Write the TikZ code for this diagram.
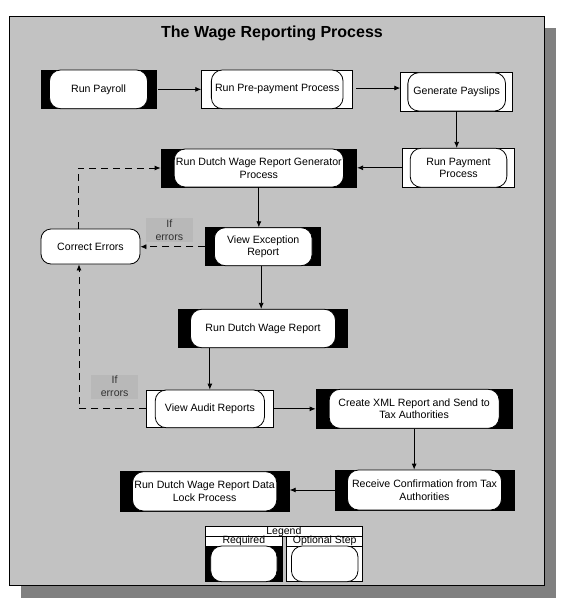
\documentclass[tikz,border=0pt]{standalone}
\usepackage{fontspec}
\setmainfont{Liberation Sans}
\usetikzlibrary{arrows.meta}
\definecolor{framegrey}{RGB}{194,194,194}
\definecolor{shadowgrey}{RGB}{128,128,128}
\definecolor{ifgrey}{RGB}{184,184,184}
\definecolor{iftext}{RGB}{50,50,50}
\tikzset{
  reqbox/.style={draw=black, fill=black, line width=0.8pt, inner sep=0pt},
  optbox/.style={draw=black, fill=white, line width=0.8pt, inner sep=0pt},
  stepin/.style={draw=black, fill=white, rounded corners=11pt, line width=0.8pt,
    inner sep=0pt, align=center, font=\fontsize{10.6}{12.6}\selectfont},
  flow/.style={-{Latex[length=6pt,width=5pt]}, line width=0.8pt},
  errflow/.style={flow, dash pattern=on 7pt off 5pt},
  iflabel/.style={fill=ifgrey, minimum width=47pt, minimum height=24pt, inner sep=0pt,
    align=center, text=iftext, font=\fontsize{10.6}{12.6}\selectfont},
  legcell/.style={draw=black, fill=white, line width=0.8pt, inner sep=0pt,
    text height=7.5pt, text depth=2pt, font=\fontsize{10.5}{11}\selectfont},
  titletext/.style={font=\bfseries\fontsize{16}{18}\selectfont, inner sep=0pt}
}
\begin{document}
\begin{tikzpicture}[x=1pt, y=-1pt]
\useasboundingbox (0,0) rectangle (561,600);
% shadow and frame
\fill[shadowgrey] (20.7,28) rectangle (556,597.7);
\draw[fill=framegrey, line width=0.8pt] (9.3,16) rectangle (544,585);
\node[titletext] (title) at (272,33) {The Wage Reporting Process};

% steps
\node[reqbox, minimum width=115pt, minimum height=38.7pt] (payroll) at (98.5,89.35) {};
\node[stepin, minimum width=98pt, minimum height=38.7pt] (payrollT) at (payroll) {Run Payroll};

\node[optbox, minimum width=151pt, minimum height=38.7pt] (prepay) at (277.2,89.35) {};
\node[stepin, minimum width=131.7pt, minimum height=38.7pt] (prepayT) at (prepay) {Run Pre-payment Process};

\node[optbox, minimum width=112pt, minimum height=38.3pt] (payslips) at (456.7,91.85) {};
\node[stepin, minimum width=97.7pt, minimum height=38.3pt] (payslipsT) at (payslips) {Generate Payslips};

\node[optbox, minimum width=111.6pt, minimum height=39pt] (payment) at (458.5,167.8) {};
\node[stepin, minimum width=96.7pt, minimum height=39pt] (paymentT) at (payment) {Run Payment\\Process};

\node[reqbox, minimum width=195.7pt, minimum height=38pt] (generator) at (258.85,168) {};
\node[stepin, minimum width=169.3pt, minimum height=38pt] (generatorT) at (generator) {Run Dutch Wage Report Generator\\Process};

\node[reqbox, minimum width=115pt, minimum height=38pt] (exception) at (263.2,246.7) {};
\node[stepin, minimum width=97.7pt, minimum height=38pt] (exceptionT) at (exception) {View Exception\\Report};

\node[stepin, minimum width=99pt, minimum height=35pt, rounded corners=10pt] (correct) at (90.5,246.5) {Correct Errors};

\node[reqbox, minimum width=169.4pt, minimum height=38.4pt] (rundutch) at (263,328.5) {};
\node[stepin, minimum width=145pt, minimum height=38.4pt] (rundutchT) at (rundutch) {Run Dutch Wage Report};

\node[optbox, minimum width=126.3pt, minimum height=37.7pt] (audit) at (209.85,408.85) {};
\node[stepin, minimum width=109.3pt, minimum height=37.7pt] (auditT) at (audit) {View Audit Reports};

\node[reqbox, minimum width=196.3pt, minimum height=39pt] (xml) at (414.15,408.8) {};
\node[stepin, minimum width=170pt, minimum height=39pt] (xmlT) at (xml) {Create XML Report and Send to\\Tax Authorities};

\node[reqbox, minimum width=179pt, minimum height=40pt] (receive) at (424.5,490) {};
\node[stepin, minimum width=154pt, minimum height=40pt] (receiveT) at (receive) {Receive Confirmation from Tax\\Authorities};

\node[reqbox, minimum width=169.3pt, minimum height=39.3pt] (lock) at (204.65,491.35) {};
\node[stepin, minimum width=144.3pt, minimum height=39.3pt] (lockT) at (lock) {Run Dutch Wage Report Data\\Lock Process};

% condition labels
\node[iflabel] (if1) at (169.35,230) {If\\errors};
\node[iflabel] (if2) at (114.65,386.5) {If\\errors};

% connectors
\draw[flow, shorten <=1.5pt] (payroll.east) -- (payroll.east -| prepay.west);
\draw[flow, shorten <=3pt] ([yshift=1.3pt]prepay.east) -- ([yshift=1.3pt]prepay.east -| payslips.west);
\draw[flow] (payslips.south) -- (payslips.south |- payment.north);
\draw[flow] (payment.west) -- (payment.west -| generator.east);
\draw[flow] (generator.south) -- (generator.south |- exception.north);
\draw[flow] ([xshift=-2pt]exception.south) -- ([xshift=-2pt]exception.south |- rundutch.north);
\draw[flow] (audit.north |- rundutch.south) -- (audit.north);
\draw[flow] (audit.east) -- (audit.east -| xml.west);
\draw[flow] (xml.south) -- (xml.south |- receive.north);
\draw[flow] (receive.west) -- (receive.west -| lock.east);
\draw[errflow] (exception.west) -- (exception.west -| correct.east);
\draw[errflow] ([xshift=-12.5pt]correct.north) |- (generator.west);
\draw[errflow] (audit.west) -| ([xshift=-11.5pt]correct.south);

% legend
\node[legcell, minimum width=157.7pt, minimum height=9.3pt] (legT) at (283.85,531.35) {Legend};
\node[legcell, minimum width=77.7pt, minimum height=10pt] (legReqH) at (243.85,541) {Required};
\node[reqbox, minimum width=77.7pt, minimum height=35.7pt] (legReqB) at (243.85,563.85) {};
\node[stepin, minimum width=66.3pt, minimum height=35.7pt] (legReqI) at (legReqB) {};
\node[legcell, minimum width=76pt, minimum height=10pt] (legOptH) at (324.7,541) {Optional Step};
\node[optbox, minimum width=76pt, minimum height=35.7pt] (legOptB) at (324.7,563.85) {};
\node[stepin, minimum width=66.6pt, minimum height=35.7pt] (legOptI) at (legOptB) {};
\end{tikzpicture}
\end{document}
